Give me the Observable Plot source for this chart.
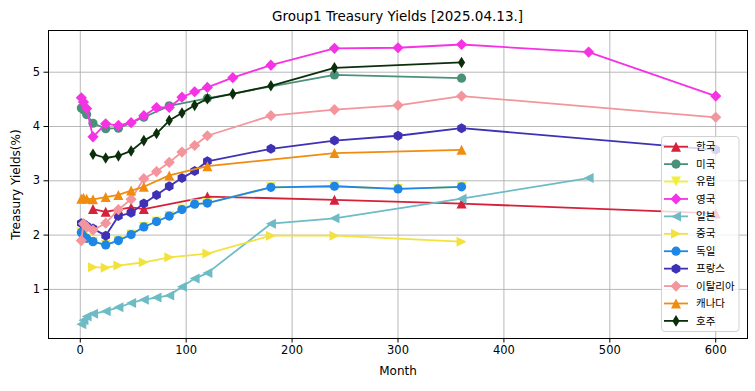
<!DOCTYPE html>
<html><head><meta charset="utf-8">
<script src="https://cdn.jsdelivr.net/npm/d3@7"></script>
<script src="https://cdn.jsdelivr.net/npm/@observablehq/plot@0.6"></script>
<style>
body{margin:0;background:#fff;}
#wrap{position:relative;width:755px;height:391px;overflow:hidden;font-family:"DejaVu Sans",sans-serif;background:#fff;}
#title{position:absolute;left:48px;width:699px;top:7px;text-align:center;font-size:13.5px;line-height:18px;color:#000;}
#chart{position:absolute;left:0;top:26px;}
#legend{position:absolute;left:0;top:0;pointer-events:none;}
</style></head><body>
<div id="wrap"><div id="title">Group1 Treasury Yields [2025.04.13.]</div><div id="chart"></div><svg id="legend" width="755" height="391"></svg></div>
<script>
// ---- data ----
const countries = ["한국","미국","유럽","영국","일본","중국","독일","프랑스","이탈리아","캐나다","호주"];
const xTicks = [0,100,200,300,400,500,600];
const yTicks = [1,2,3,4,5];

const koreaMonths = [12,24,36,48,60,120,240,360,600];
const koreaYields = [2.48,2.43,2.47,2.51,2.48,2.71,2.65,2.58,2.40];
const usMonths = [1,3,6,12,24,36,60,84,120,240,360];
const usYields = [4.34,4.31,4.22,4.06,3.96,3.97,4.17,4.38,4.52,4.95,4.89];
const europeMonths = [1,3,6,12,24,36,48,60,72,84,96,108,120,180,240,300,360];
const europeYields = [2.05,1.98,1.94,1.88,1.82,1.90,2.01,2.15,2.25,2.35,2.47,2.57,2.59,2.88,2.90,2.85,2.89];
const ukMonths = [1,3,6,12,24,36,48,60,72,84,96,108,120,144,180,240,300,360,480,600];
const ukYields = [4.53,4.45,4.33,3.81,4.05,4.02,4.07,4.20,4.35,4.35,4.54,4.64,4.72,4.90,5.13,5.44,5.45,5.51,5.37,4.56];
const japanMonths = [1,3,6,12,24,36,48,60,72,84,96,108,120,180,240,360,480];
const japanYields = [0.36,0.43,0.50,0.55,0.60,0.67,0.75,0.81,0.85,0.89,1.05,1.20,1.30,2.21,2.31,2.67,3.05];
const chinaMonths = [12,24,36,60,84,120,180,240,360];
const chinaYields = [1.41,1.40,1.44,1.50,1.59,1.66,1.99,1.99,1.88];
const germanyMonths = [1,3,6,12,24,36,48,60,72,84,96,108,120,180,240,300,360];
const germanyYields = [2.05,1.98,1.94,1.88,1.82,1.90,2.01,2.15,2.25,2.35,2.47,2.57,2.59,2.88,2.90,2.85,2.89];
const franceMonths = [1,3,6,12,24,36,48,60,72,84,96,108,120,180,240,300,360,600];
const franceYields = [2.22,2.21,2.17,2.12,1.99,2.35,2.41,2.58,2.74,2.90,3.05,3.18,3.36,3.59,3.74,3.83,3.97,3.57];
const italyMonths = [1,3,6,12,24,36,48,60,72,84,96,108,120,180,240,300,360,600];
const italyYields = [1.90,2.21,2.15,2.09,2.22,2.47,2.66,3.04,3.17,3.34,3.53,3.65,3.83,4.20,4.31,4.39,4.56,4.17];
const canadaMonths = [1,3,6,12,24,36,48,60,84,120,240,360];
const canadaYields = [2.67,2.69,2.67,2.66,2.70,2.74,2.82,2.89,3.10,3.27,3.51,3.57];
const australiaMonths = [12,24,36,48,60,72,84,96,108,120,144,180,240,360];
const australiaYields = [3.49,3.42,3.46,3.55,3.74,3.87,4.11,4.25,4.39,4.51,4.60,4.75,5.08,5.18];

const colors = ["#d5213a","#4a917a","#f0f03a","#f532e4","#6dbcc5","#f3e23e","#1e86e6","#3e31b5","#f3959c","#f08c10","#0b2f0b"];

// ---- marker shapes ----
function poly(pts){
  return {draw(ctx,size){
    const s=Math.sqrt(size/Math.PI);
    ctx.moveTo(pts[0][0]*s,pts[0][1]*s);
    for(let i=1;i<pts.length;i++) ctx.lineTo(pts[i][0]*s,pts[i][1]*s);
    ctx.closePath();
  }};
}
const triUp = poly([[0,-1],[1,1],[-1,1]]);
const triDown = poly([[0,1],[-1,-1],[1,-1]]);
const triLeft = poly([[-1,0],[1,-1],[1,1]]);
const triRight = poly([[1,0],[-1,-1],[-1,1]]);
const diamondFat = poly([[0,-1],[1,0],[0,1],[-1,0]]);
const diamondThin = poly([[0,-1],[0.62,0],[0,1],[-0.62,0]]);
const hexagon = poly(d3.range(6).map(k=>[Math.cos(Math.PI/2+k*Math.PI/3), -Math.sin(Math.PI/2+k*Math.PI/3)]));
const circle = {draw(ctx,size){const r=Math.sqrt(size/Math.PI); ctx.moveTo(r,0); ctx.arc(0,0,r,0,2*Math.PI);}};

const symbols = [triUp,circle,triDown,diamondFat,triLeft,triRight,circle,hexagon,diamondFat,triUp,diamondThin];
const radii = [5,4.6,5,5.6,5,5,4.6,5,5.6,5,5.8];
const monthsList = [koreaMonths,usMonths,europeMonths,ukMonths,japanMonths,chinaMonths,germanyMonths,franceMonths,italyMonths,canadaMonths,australiaMonths];
const yieldsList = [koreaYields,usYields,europeYields,ukYields,japanYields,chinaYields,germanyYields,franceYields,italyYields,canadaYields,australiaYields];

const series = countries.map((name,i)=>({name,color:colors[i],symbol:symbols[i],r:radii[i],
  rows: monthsList[i].map((m,j)=>({month:m, yld:yieldsList[i][j]}))}));

const marks = [
  Plot.gridX({ticks:xTicks, stroke:"#b0b0b0", strokeOpacity:1, strokeWidth:0.9}),
  Plot.gridY({ticks:yTicks, stroke:"#b0b0b0", strokeOpacity:1, strokeWidth:0.9})
];
for(const s of series){
  marks.push(Plot.line(s.rows,{x:"month",y:"yld",stroke:s.color,strokeWidth:1.8}));
  marks.push(Plot.dot(s.rows,{x:"month",y:"yld",fill:s.color,r:s.r,symbol:s.symbol}));
}
marks.push(Plot.frame({stroke:"#000",strokeWidth:1}));
marks.push(Plot.axisX({ticks:xTicks, tickFormat:d=>String(d), tickSize:4.5, tickPadding:3, fontSize:11.5, label:null, stroke:"#000", fill:"#000"}));
marks.push(Plot.axisY({ticks:yTicks, tickFormat:d=>String(d), tickSize:4.5, tickPadding:4, fontSize:11.5, label:null, stroke:"#000", fill:"#000"}));
marks.push(Plot.text(["Month"],{frameAnchor:"bottom", dy:36, textAnchor:"middle", fontSize:12, fill:"#000"}));
marks.push(Plot.text(["Treasury Yields(%)"],{frameAnchor:"left", dx:-32, rotate:-90, textAnchor:"middle", lineAnchor:"middle", fontSize:12, fill:"#000"}));

const chart = Plot.plot({
  width:755, height:365,
  marginLeft:48, marginRight:8, marginTop:4, marginBottom:53,
  style:{fontFamily:"DejaVu Sans", fontSize:"11.5px", background:"white", color:"#000"},
  x:{domain:[-30,630]},
  y:{domain:[0.096,5.768]},
  marks
});
document.getElementById("chart").appendChild(chart);

// ---- legend ----
const lg = d3.select("#legend");
lg.append("rect").attr("x",661.5).attr("y",136.5).attr("width",77.5).attr("height",195).attr("rx",3)
  .attr("fill","white").attr("fill-opacity",0.8).attr("stroke","#cccccc").attr("stroke-opacity",0.9);
series.forEach((s,i)=>{
  const cy = 146.7 + i*17.42;
  const g = lg.append("g");
  g.append("line").attr("x1",664).attr("x2",688).attr("y1",cy).attr("y2",cy).attr("stroke",s.color).attr("stroke-width",1.8);
  g.append("path").attr("transform",`translate(676,${cy})`).attr("d",d3.symbol(s.symbol,Math.PI*s.r*s.r)()).attr("fill",s.color);
  g.append("text").attr("x",696).attr("y",cy).attr("dy","0.35em").attr("font-family","'Noto Sans CJK KR'").attr("font-size",10.5).attr("fill","#000").text(s.name);
});
</script>
</body></html>
